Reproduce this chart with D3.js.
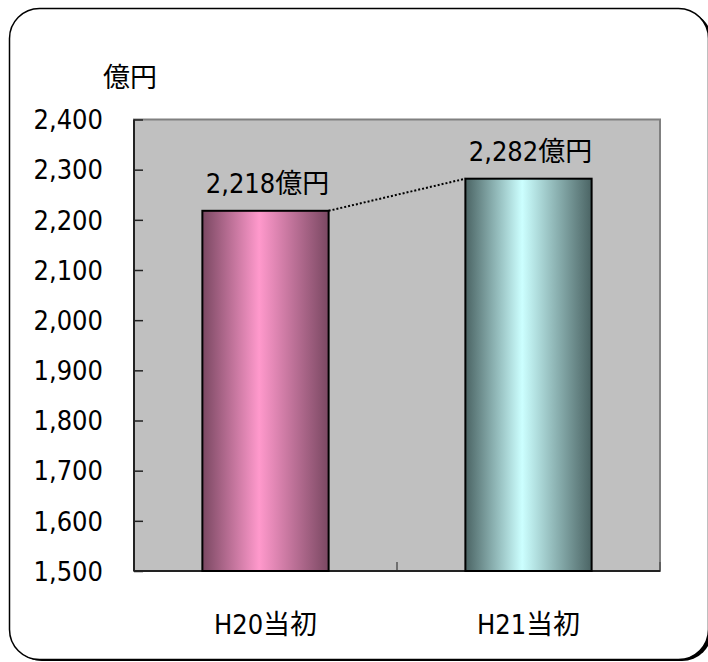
<!DOCTYPE html>
<html>
<head>
<meta charset="utf-8">
<script src="https://cdn.jsdelivr.net/npm/d3@7"></script>
<style>
  html, body { margin: 0; padding: 0; background: #fff; }
  svg text { font-family: "Liberation Sans Narrow", "DejaVu Sans Condensed", "Noto Sans CJK JP", sans-serif; fill: #000; }
</style>
</head>
<body>
<svg id="chart" width="708" height="662"></svg>
<script>
// chart data
var categories = ['H20当初', 'H21当初'];
var values = [2218, 2282];
var valueLabels = ['2,218億円', '2,282億円'];
var yTicks = [1500, 1600, 1700, 1800, 1900, 2000, 2100, 2200, 2300, 2400];
var unitLabel = '億円';

// bar gradient colours: edge, highlight
var barColors = [['#7a4862', '#ff99cc'], ['#4b6464', '#ccffff']];

var svg = d3.select('#chart');
var fontSize = 27;

// outer rounded frame, right side runs off the picture, shadow lower right
svg.append('rect')
    .attr('x', 12).attr('y', 11)
    .attr('width', 700).attr('height', 650)
    .attr('rx', 30).attr('ry', 30)
    .attr('fill', '#000');
svg.append('rect')
    .attr('x', 9.5).attr('y', 8.5)
    .attr('width', 699).attr('height', 651)
    .attr('rx', 30).attr('ry', 30)
    .attr('fill', '#fff')
    .attr('stroke', '#000')
    .attr('stroke-width', 1.5);

var plot = {left: 134, top: 119.5, right: 660, bottom: 571};

var x = d3.scaleBand()
    .domain(categories)
    .range([plot.left, plot.right])
    .paddingInner(0)
    .paddingOuter(0);

var y = d3.scaleLinear()
    .domain([1500, 2400])
    .range([plot.bottom, plot.top]);

// gradients, one per bar
var defs = svg.append('defs');
barColors.forEach(function(c, i){
    var g = defs.append('linearGradient')
        .attr('id', 'grad' + i)
        .attr('x1', '0%').attr('x2', '100%')
        .attr('y1', '0%').attr('y2', '0%');
    g.append('stop').attr('offset', '0%').attr('stop-color', c[0]);
    g.append('stop').attr('offset', '45%').attr('stop-color', c[1]);
    g.append('stop').attr('offset', '100%').attr('stop-color', c[0]);
});

// plot background
svg.append('rect')
    .attr('x', plot.left).attr('y', plot.top)
    .attr('width', plot.right - plot.left)
    .attr('height', plot.bottom - plot.top)
    .attr('fill', '#c0c0c0')
    .attr('stroke', '#808080')
    .attr('stroke-width', 2);

// y axis, ticks point into the plot
var yAxis = svg.append('g')
    .attr('transform', 'translate(' + plot.left + ',0)')
    .call(d3.axisRight(y).tickValues(yTicks).tickSize(9).tickFormat(''));
yAxis.select('.domain').remove();
yAxis.selectAll('line').attr('stroke', '#222').attr('stroke-width', 1.5);

svg.selectAll('text.ytick')
    .data(yTicks)
  .enter().append('text')
    .attr('class', 'ytick')
    .attr('x', 103)
    .attr('y', function(d){ return y(d); })
    .attr('dy', '0.36em')
    .attr('text-anchor', 'end')
    .style('font-size', fontSize + 'px')
    .text(d3.format(','));

// x axis ticks at category boundaries
var xBounds = [plot.left].concat(categories.map(function(c){ return x(c) + x.bandwidth(); }));
svg.selectAll('line.xtick')
    .data(xBounds)
  .enter().append('line')
    .attr('class', 'xtick')
    .attr('x1', function(d){ return d; }).attr('x2', function(d){ return d; })
    .attr('y1', plot.bottom).attr('y2', plot.bottom - 9)
    .attr('stroke', '#555').attr('stroke-width', 1.5);

// axis lines
svg.append('line')
    .attr('x1', plot.left).attr('x2', plot.left)
    .attr('y1', plot.top).attr('y2', plot.bottom)
    .attr('stroke', '#222').attr('stroke-width', 2);
svg.append('line')
    .attr('x1', plot.left).attr('x2', plot.right)
    .attr('y1', plot.bottom).attr('y2', plot.bottom)
    .attr('stroke', '#222').attr('stroke-width', 2);

// bars
var barW = x.bandwidth() * 0.48;
function barX(i){ return x(categories[i]) + (x.bandwidth() - barW) / 2; }

svg.selectAll('rect.bar')
    .data(values)
  .enter().append('rect')
    .attr('class', 'bar')
    .attr('x', function(d, i){ return barX(i); })
    .attr('y', function(d){ return y(d); })
    .attr('width', barW)
    .attr('height', function(d){ return plot.bottom - y(d); })
    .attr('fill', function(d, i){ return 'url(#grad' + i + ')'; })
    .attr('stroke', '#000')
    .attr('stroke-width', 2);

// dotted connector between the two bar tops
svg.append('line')
    .attr('x1', barX(0) + barW).attr('y1', y(values[0]))
    .attr('x2', barX(1)).attr('y2', y(values[1]))
    .attr('stroke', '#000')
    .attr('stroke-width', 2)
    .attr('stroke-dasharray', '2,2');

// value labels over the bars
svg.selectAll('text.vlabel')
    .data(values)
  .enter().append('text')
    .attr('class', 'vlabel')
    .attr('x', function(d, i){ return x(categories[i]) + x.bandwidth() / 2 + 2; })
    .attr('y', function(d){ return y(d) - 18; })
    .attr('text-anchor', 'middle')
    .style('font-size', fontSize + 'px')
    .text(function(d, i){ return valueLabels[i]; });

// category labels
svg.selectAll('text.xlabel')
    .data(categories)
  .enter().append('text')
    .attr('class', 'xlabel')
    .attr('x', function(d){ return x(d) + x.bandwidth() / 2; })
    .attr('y', 634)
    .attr('text-anchor', 'middle')
    .style('font-size', fontSize + 'px')
    .text(function(d){ return d; });

// unit label
svg.append('text')
    .attr('x', 130)
    .attr('y', 87)
    .attr('text-anchor', 'middle')
    .style('font-size', fontSize + 'px')
    .text(unitLabel);
</script>
</body>
</html>
